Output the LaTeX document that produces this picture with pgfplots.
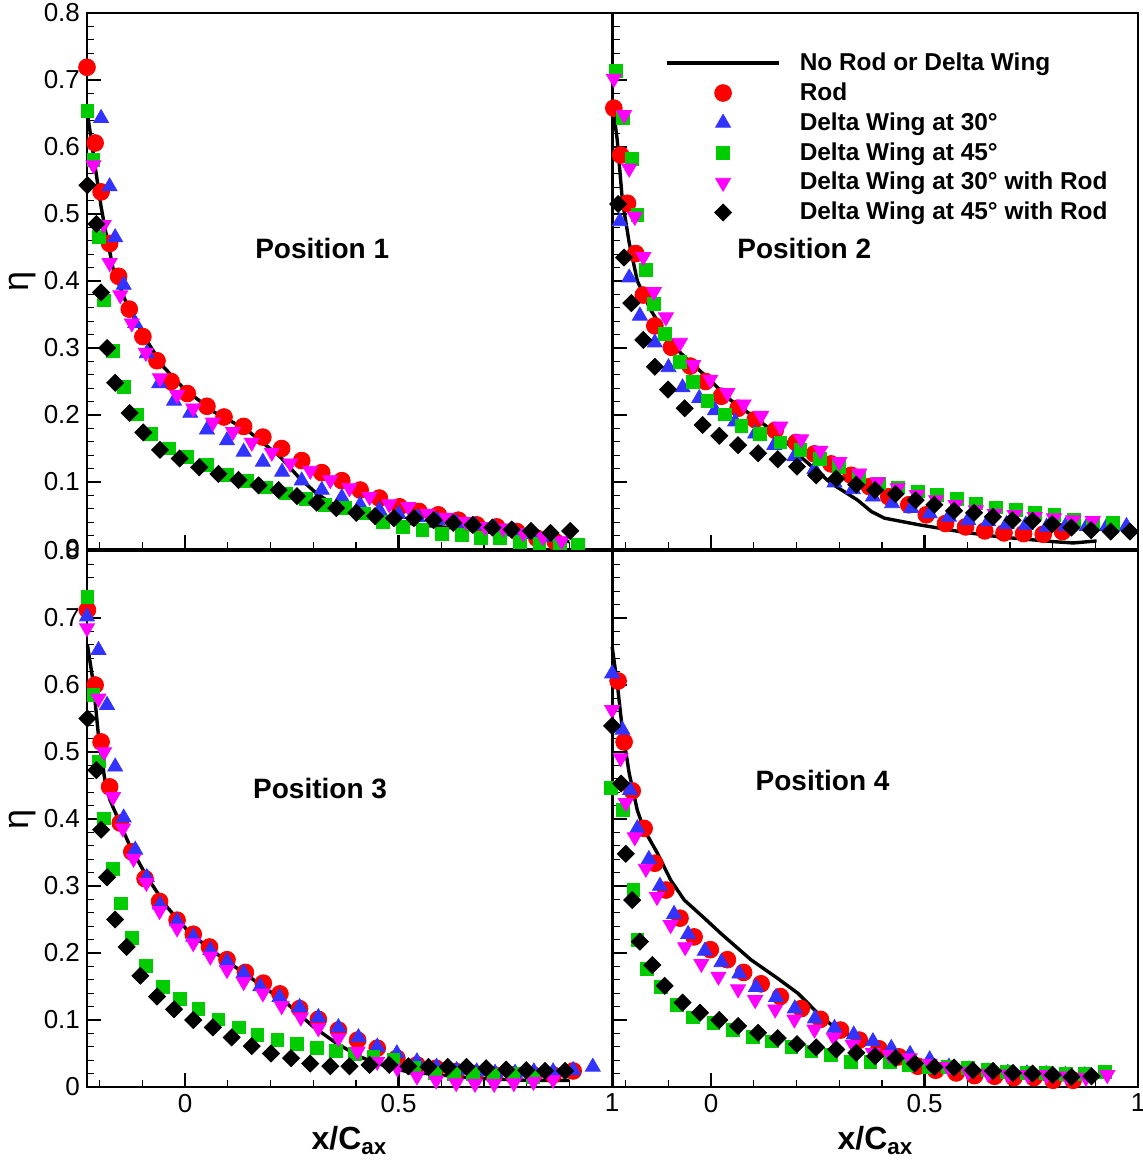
\documentclass[border=0pt]{standalone}
\usepackage{fontspec}
\setmainfont{Liberation Sans}
\usepackage{pgfplots}
\pgfplotsset{compat=1.18}
\definecolor{cred}{RGB}{255,0,0}
\definecolor{cblue}{RGB}{51,51,255}
\definecolor{cgreen}{RGB}{0,204,0}
\definecolor{cmag}{RGB}{255,0,255}
\pgfplotsset{
 panel/.style={
  scale only axis, width=262.5pt, height=268pt,
  xmin=-0.23, xmax=1, ymin=0, ymax=0.8,
  xtick={0,0.5,1},
  minor xtick={-0.2,-0.1,0.1,0.2,0.3,0.4,0.6,0.7,0.8,0.9},
  ytick={0,0.1,0.2,0.3,0.4,0.5,0.6,0.7,0.8},
  minor ytick={0.02,0.04,0.06,0.08,0.12,0.14,0.16,0.18,0.22,0.24,0.26,0.28,0.32,0.34,0.36,0.38,0.42,0.44,0.46,0.48,0.52,0.54,0.56,0.58,0.62,0.64,0.66,0.68,0.72,0.74,0.76,0.78},
  tick align=inside, tick pos=left,
  major tick length=7pt, minor tick length=3.5pt,
  every major tick/.append style={line width=1.2pt,black},
  every minor tick/.append style={line width=0.6pt,black},
  axis line style={line width=1.3pt},
  clip=false,
  tick label style={font=\fontsize{13}{13}\selectfont},
  /pgf/number format/assume math mode=true,
  ylabel style={at={(axis description cs:-0.122,0.5)}, anchor=center, inner sep=0pt, font=\fontsize{18}{18}\selectfont},
  xlabel style={at={(axis description cs:0.5,-0.072)}, anchor=north, inner sep=0pt, font=\fontsize{16}{16}\selectfont\bfseries},
 },
 ln/.style={black, line width=1.7pt, no marks},
 rd/.style={only marks, mark=*, color=cred, mark size=4.2pt},
 bl/.style={only marks, mark=triangle*, color=cblue, mark size=4.3pt},
 gr/.style={only marks, mark=square*, color=cgreen, mark size=3.2pt},
 mg/.style={only marks, mark=triangle*, color=cmag, mark size=4.3pt, mark options={rotate=180}},
 bk/.style={only marks, mark=square*, color=black, mark size=3.0pt, mark options={rotate=45}},
}
\begin{document}
\begin{tikzpicture}
% ---------------- Position 1 ----------------
\begin{axis}[panel, at={(43.5pt,-6.5pt)}, anchor=north west, xticklabels={}, ylabel={η}]
\addplot[ln] coordinates {(-0.229,0.65) (-0.211,0.571) (-0.197,0.511) (-0.187,0.476) (-0.168,0.416) (-0.141,0.372) (-0.098,0.319) (-0.051,0.272) (-0.004,0.240) (0.066,0.205) (0.144,0.178) (0.222,0.138) (0.269,0.105) (0.308,0.083) (0.355,0.063) (0.45,0.045) (0.55,0.036) (0.65,0.030) (0.75,0.022) (0.85,0.014) (0.90,0.011)};
\addplot[rd] coordinates {(-0.230,0.719) (-0.211,0.606) (-0.197,0.533) (-0.177,0.456) (-0.156,0.407) (-0.131,0.358) (-0.099,0.317) (-0.066,0.281) (-0.033,0.250) (0.005,0.232) (0.051,0.213) (0.091,0.197) (0.137,0.183) (0.182,0.167) (0.226,0.150) (0.273,0.132) (0.320,0.114) (0.367,0.102) (0.410,0.088) (0.455,0.076) (0.502,0.063) (0.548,0.056) (0.593,0.051) (0.640,0.043) (0.683,0.036) (0.730,0.033) (0.777,0.026) (0.824,0.016) (0.867,0.011)};
\addplot[bl] coordinates {(-0.197,0.643) (-0.177,0.541) (-0.164,0.465) (-0.144,0.394) (-0.117,0.337) (-0.090,0.292) (-0.061,0.247) (-0.026,0.221) (0.012,0.203) (0.051,0.178) (0.098,0.162) (0.137,0.145) (0.182,0.130) (0.227,0.115) (0.273,0.102) (0.320,0.088) (0.367,0.077) (0.410,0.066) (0.455,0.058) (0.500,0.052) (0.545,0.047) (0.590,0.043) (0.635,0.039) (0.680,0.035) (0.725,0.031) (0.770,0.027) (0.815,0.022) (0.860,0.018)};
\addplot[gr] coordinates {(-0.229,0.654) (-0.215,0.581) (-0.203,0.466) (-0.190,0.371) (-0.170,0.296) (-0.144,0.242) (-0.112,0.201) (-0.080,0.172) (-0.039,0.150) (0.005,0.138) (0.051,0.125) (0.098,0.111) (0.144,0.102) (0.189,0.092) (0.236,0.083) (0.283,0.075) (0.328,0.066) (0.375,0.061) (0.419,0.053) (0.464,0.041) (0.510,0.033) (0.556,0.028) (0.601,0.023) (0.648,0.021) (0.692,0.017) (0.738,0.016) (0.785,0.011) (0.830,0.008) (0.877,0.007) (0.921,0.006)};
\addplot[mg] coordinates {(-0.215,0.573) (-0.191,0.484) (-0.177,0.427) (-0.152,0.379) (-0.125,0.337) (-0.092,0.293) (-0.059,0.255) (-0.019,0.230) (0.019,0.210) (0.065,0.189) (0.112,0.175) (0.156,0.159) (0.203,0.144) (0.246,0.128) (0.293,0.117) (0.340,0.103) (0.385,0.091) (0.432,0.078) (0.478,0.067) (0.523,0.063) (0.568,0.053) (0.613,0.047) (0.658,0.041) (0.703,0.033) (0.745,0.031) (0.792,0.024) (0.838,0.018) (0.882,0.012)};
\addplot[bk] coordinates {(-0.229,0.543) (-0.208,0.485) (-0.197,0.383) (-0.183,0.300) (-0.164,0.248) (-0.130,0.203) (-0.098,0.174) (-0.059,0.148) (-0.013,0.135) (0.033,0.122) (0.078,0.112) (0.125,0.103) (0.172,0.095) (0.219,0.088) (0.262,0.079) (0.308,0.069) (0.354,0.061) (0.401,0.054) (0.445,0.049) (0.489,0.046) (0.536,0.046) (0.582,0.043) (0.628,0.039) (0.674,0.036) (0.720,0.032) (0.765,0.029) (0.810,0.027) (0.856,0.024) (0.902,0.027)};
\node[font=\fontsize{14}{16}\selectfont\bfseries] at (axis cs:0.321,0.449) {Position 1};
\end{axis}
% ---------------- Position 2 ----------------
\begin{axis}[panel, at={(306.5pt,-6.5pt)}, anchor=north west, xticklabels={}, yticklabels={},
  legend image code/.code={\draw[mark repeat=2,mark phase=2,#1] plot coordinates {(0pt,0pt) (28pt,0pt) (56pt,0pt)};},
  legend cell align=left,
  legend style={at={(axis description cs:0.099,0.934)}, anchor=north west, draw=none, fill=none,
    inner xsep=0pt, inner ysep=0pt, column sep=7.5pt, row sep=0.6pt,
    font=\fontsize{12.2}{14}\selectfont\bfseries}]
\addplot[ln] coordinates {(-0.228,0.65) (-0.220,0.61) (-0.208,0.52) (-0.192,0.457) (-0.173,0.400) (-0.142,0.357) (-0.110,0.324) (-0.071,0.292) (-0.016,0.260) (0.046,0.222) (0.109,0.193) (0.171,0.163) (0.218,0.133) (0.281,0.098) (0.343,0.073) (0.375,0.056) (0.406,0.046) (0.488,0.036) (0.582,0.026) (0.676,0.018) (0.801,0.011) (0.848,0.009) (0.903,0.012)};
\addlegendentry{No Rod or Delta Wing}
\addplot[rd] coordinates {(-0.228,0.658) (-0.212,0.588) (-0.196,0.516) (-0.177,0.441) (-0.159,0.379) (-0.132,0.333) (-0.093,0.301) (-0.049,0.273) (-0.013,0.250) (0.024,0.228) (0.063,0.210) (0.103,0.193) (0.150,0.177) (0.199,0.159) (0.242,0.142) (0.281,0.127) (0.328,0.110) (0.371,0.093) (0.416,0.078) (0.463,0.066) (0.504,0.051) (0.549,0.038) (0.596,0.033) (0.641,0.027) (0.686,0.024) (0.732,0.023) (0.778,0.022) (0.823,0.026)};
\addlegendentry{Rod}
\addplot[bl] coordinates {(-0.214,0.489) (-0.192,0.405) (-0.167,0.348) (-0.132,0.308) (-0.100,0.271) (-0.067,0.241) (-0.028,0.225) (0.009,0.207) (0.056,0.190) (0.103,0.172) (0.148,0.155) (0.195,0.138) (0.242,0.119) (0.289,0.099) (0.332,0.089) (0.379,0.078) (0.424,0.068) (0.469,0.061) (0.512,0.053) (0.557,0.048) (0.602,0.043) (0.649,0.041) (0.692,0.037) (0.737,0.036) (0.786,0.033) (0.830,0.034) (0.880,0.034) (0.927,0.034) (0.973,0.034)};
\addlegendentry{Delta Wing at 30°}
\addplot[gr] coordinates {(-0.224,0.714) (-0.206,0.644) (-0.185,0.582) (-0.173,0.499) (-0.152,0.417) (-0.134,0.366) (-0.108,0.321) (-0.073,0.279) (-0.042,0.249) (-0.009,0.221) (0.032,0.201) (0.071,0.184) (0.115,0.172) (0.162,0.159) (0.209,0.148) (0.254,0.135) (0.300,0.122) (0.347,0.107) (0.393,0.098) (0.437,0.092) (0.484,0.086) (0.529,0.081) (0.576,0.075) (0.621,0.068) (0.668,0.062) (0.714,0.058) (0.758,0.054) (0.804,0.051) (0.850,0.043) (0.895,0.039) (0.942,0.039)};
\addlegendentry{Delta Wing at 45°}
\addplot[mg] coordinates {(-0.228,0.702) (-0.204,0.648) (-0.192,0.568) (-0.179,0.496) (-0.159,0.436) (-0.134,0.384) (-0.106,0.346) (-0.073,0.308) (-0.042,0.275) (-0.002,0.253) (0.038,0.233) (0.076,0.216) (0.117,0.199) (0.162,0.183) (0.211,0.164) (0.256,0.147) (0.300,0.130) (0.347,0.113) (0.390,0.100) (0.437,0.091) (0.482,0.081) (0.527,0.073) (0.573,0.066) (0.620,0.058) (0.664,0.053) (0.711,0.051) (0.758,0.048) (0.803,0.046) (0.848,0.043) (0.894,0.042)};
\addlegendentry{Delta Wing at 30° with Rod}
\addplot[bk] coordinates {(-0.218,0.515) (-0.204,0.435) (-0.187,0.367) (-0.159,0.312) (-0.132,0.272) (-0.101,0.238) (-0.062,0.210) (-0.020,0.185) (0.019,0.169) (0.063,0.155) (0.110,0.143) (0.156,0.134) (0.201,0.123) (0.246,0.110) (0.293,0.105) (0.340,0.096) (0.384,0.088) (0.432,0.082) (0.479,0.073) (0.523,0.066) (0.569,0.057) (0.616,0.054) (0.660,0.048) (0.706,0.043) (0.753,0.042) (0.799,0.037) (0.844,0.032) (0.890,0.028) (0.936,0.026) (0.981,0.026)};
\addlegendentry{Delta Wing at 45° with Rod}
\node[font=\fontsize{14}{16}\selectfont\bfseries] at (axis cs:0.218,0.449) {Position 2};
\end{axis}
% ---------------- Position 3 ----------------
\begin{axis}[panel, at={(43.5pt,-275.5pt)}, anchor=north west, ylabel={η}, xlabel={x/C\textsubscript{ax}}]
\addplot[ln] coordinates {(-0.229,0.66) (-0.215,0.602) (-0.203,0.523) (-0.187,0.453) (-0.176,0.428) (-0.129,0.359) (-0.090,0.314) (-0.043,0.269) (0.012,0.229) (0.082,0.195) (0.160,0.160) (0.238,0.125) (0.300,0.090) (0.355,0.065) (0.410,0.045) (0.450,0.035) (0.519,0.023) (0.675,0.013) (0.800,0.010) (0.900,0.010)};
\addplot[rd] coordinates {(-0.229,0.712) (-0.211,0.600) (-0.197,0.515) (-0.177,0.448) (-0.152,0.394) (-0.125,0.351) (-0.094,0.311) (-0.060,0.277) (-0.019,0.249) (0.019,0.228) (0.057,0.209) (0.098,0.190) (0.141,0.171) (0.183,0.155) (0.222,0.139) (0.268,0.117) (0.312,0.101) (0.359,0.085) (0.404,0.070) (0.450,0.058) (0.496,0.043) (0.543,0.033) (0.588,0.028) (0.635,0.023) (0.679,0.020) (0.724,0.018) (0.769,0.018) (0.816,0.018) (0.862,0.018) (0.909,0.024)};
\addplot[bl] coordinates {(-0.230,0.702) (-0.203,0.652) (-0.183,0.570) (-0.164,0.478) (-0.144,0.402) (-0.117,0.354) (-0.090,0.313) (-0.059,0.272) (-0.019,0.247) (0.019,0.224) (0.059,0.204) (0.098,0.187) (0.137,0.170) (0.176,0.150) (0.221,0.134) (0.268,0.119) (0.312,0.104) (0.359,0.089) (0.406,0.074) (0.450,0.060) (0.496,0.050) (0.543,0.038) (0.589,0.030) (0.636,0.025) (0.683,0.023) (0.726,0.021) (0.773,0.021) (0.817,0.023) (0.862,0.023) (0.909,0.025) (0.955,0.030)};
\addplot[gr] coordinates {(-0.229,0.731) (-0.215,0.585) (-0.203,0.486) (-0.190,0.401) (-0.170,0.325) (-0.151,0.274) (-0.125,0.222) (-0.092,0.181) (-0.052,0.149) (-0.013,0.132) (0.031,0.116) (0.078,0.101) (0.125,0.089) (0.169,0.078) (0.216,0.070) (0.262,0.064) (0.308,0.058) (0.354,0.054) (0.398,0.050) (0.441,0.045) (0.488,0.040) (0.535,0.028) (0.585,0.021) (0.630,0.019) (0.675,0.019) (0.722,0.018) (0.769,0.019) (0.814,0.015)};
\addplot[mg] coordinates {(-0.230,0.685) (-0.203,0.580) (-0.190,0.500) (-0.169,0.433) (-0.146,0.386) (-0.121,0.341) (-0.091,0.305) (-0.060,0.263) (-0.019,0.237) (0.019,0.215) (0.059,0.195) (0.098,0.175) (0.137,0.157) (0.182,0.140) (0.226,0.121) (0.271,0.104) (0.312,0.088) (0.359,0.073) (0.404,0.053) (0.450,0.038) (0.497,0.028) (0.543,0.016) (0.588,0.010) (0.635,0.006) (0.679,0.005) (0.724,0.005) (0.770,0.006) (0.816,0.008) (0.862,0.011)};
\addplot[bk] coordinates {(-0.229,0.550) (-0.208,0.473) (-0.197,0.384) (-0.183,0.313) (-0.164,0.250) (-0.137,0.209) (-0.105,0.166) (-0.066,0.135) (-0.026,0.116) (0.019,0.100) (0.065,0.089) (0.109,0.074) (0.156,0.061) (0.201,0.050) (0.248,0.043) (0.293,0.035) (0.340,0.031) (0.385,0.031) (0.432,0.033) (0.478,0.033) (0.523,0.031) (0.570,0.030) (0.615,0.030) (0.659,0.030) (0.705,0.028) (0.752,0.026) (0.799,0.025) (0.843,0.024) (0.890,0.024)};
\node[font=\fontsize{14}{16}\selectfont\bfseries] at (axis cs:0.316,0.446) {Position 3};
\end{axis}
% ---------------- Position 4 ----------------
\begin{axis}[panel, at={(306.5pt,-275.5pt)}, anchor=north west, yticklabels={}, xlabel={x/C\textsubscript{ax}}]
\addplot[ln] coordinates {(-0.232,0.657) (-0.220,0.602) (-0.208,0.533) (-0.192,0.468) (-0.173,0.413) (-0.157,0.384) (-0.126,0.349) (-0.095,0.309) (-0.063,0.279) (-0.016,0.252) (0.023,0.229) (0.093,0.190) (0.156,0.162) (0.203,0.140) (0.250,0.110) (0.296,0.085) (0.351,0.070) (0.398,0.060) (0.450,0.045) (0.550,0.028) (0.650,0.018) (0.750,0.013) (0.860,0.010)};
\addplot[rd] coordinates {(-0.218,0.606) (-0.204,0.515) (-0.185,0.442) (-0.157,0.386) (-0.132,0.334) (-0.106,0.294) (-0.073,0.252) (-0.040,0.224) (-0.002,0.205) (0.038,0.190) (0.076,0.171) (0.117,0.154) (0.162,0.135) (0.211,0.117) (0.256,0.101) (0.303,0.085) (0.347,0.070) (0.393,0.057) (0.440,0.045) (0.484,0.031) (0.526,0.025) (0.574,0.021) (0.617,0.017) (0.664,0.016) (0.709,0.014) (0.756,0.014) (0.801,0.010) (0.848,0.010)};
\addplot[bl] coordinates {(-0.232,0.617) (-0.208,0.533) (-0.190,0.443) (-0.173,0.386) (-0.146,0.340) (-0.120,0.300) (-0.087,0.258) (-0.054,0.228) (-0.015,0.203) (0.024,0.186) (0.066,0.169) (0.105,0.149) (0.152,0.134) (0.196,0.117) (0.243,0.102) (0.289,0.088) (0.334,0.078) (0.379,0.068) (0.422,0.058) (0.466,0.049) (0.512,0.041) (0.557,0.030) (0.604,0.026) (0.649,0.023) (0.695,0.021) (0.740,0.020) (0.785,0.019) (0.830,0.018) (0.875,0.017)};
\addplot[gr] coordinates {(-0.235,0.447) (-0.206,0.414) (-0.182,0.294) (-0.173,0.220) (-0.151,0.176) (-0.118,0.149) (-0.081,0.122) (-0.042,0.104) (0.005,0.096) (0.050,0.085) (0.097,0.075) (0.142,0.068) (0.188,0.060) (0.235,0.053) (0.281,0.048) (0.328,0.038) (0.373,0.038) (0.418,0.038) (0.463,0.033) (0.510,0.030) (0.555,0.030) (0.602,0.028) (0.649,0.025) (0.693,0.023) (0.739,0.021) (0.784,0.021) (0.831,0.019) (0.876,0.019) (0.923,0.023)};
\addplot[mg] coordinates {(-0.232,0.563) (-0.212,0.491) (-0.200,0.424) (-0.179,0.373) (-0.153,0.326) (-0.127,0.284) (-0.095,0.242) (-0.061,0.209) (-0.023,0.184) (0.017,0.165) (0.063,0.146) (0.103,0.130) (0.150,0.116) (0.195,0.101) (0.242,0.086) (0.287,0.074) (0.332,0.063) (0.379,0.051) (0.418,0.048) (0.465,0.043) (0.512,0.035) (0.555,0.030) (0.602,0.023) (0.649,0.020) (0.696,0.019) (0.742,0.018) (0.786,0.018) (0.833,0.016) (0.878,0.014) (0.928,0.018)};
\addplot[bk] coordinates {(-0.232,0.539) (-0.211,0.453) (-0.200,0.348) (-0.185,0.279) (-0.167,0.217) (-0.138,0.182) (-0.109,0.151) (-0.067,0.126) (-0.026,0.111) (0.019,0.100) (0.063,0.091) (0.110,0.081) (0.156,0.073) (0.201,0.064) (0.246,0.059) (0.293,0.056) (0.340,0.051) (0.384,0.046) (0.432,0.043) (0.477,0.035) (0.523,0.030) (0.569,0.029) (0.613,0.025) (0.660,0.024) (0.707,0.021) (0.753,0.020) (0.800,0.018) (0.844,0.015) (0.891,0.016)};
\node[font=\fontsize{14}{16}\selectfont\bfseries] at (axis cs:0.261,0.457) {Position 4};
\end{axis}
\pgfresetboundingbox
\useasboundingbox (0pt,0pt) rectangle (571.5pt,-581.5pt);
\end{tikzpicture}
\end{document}
